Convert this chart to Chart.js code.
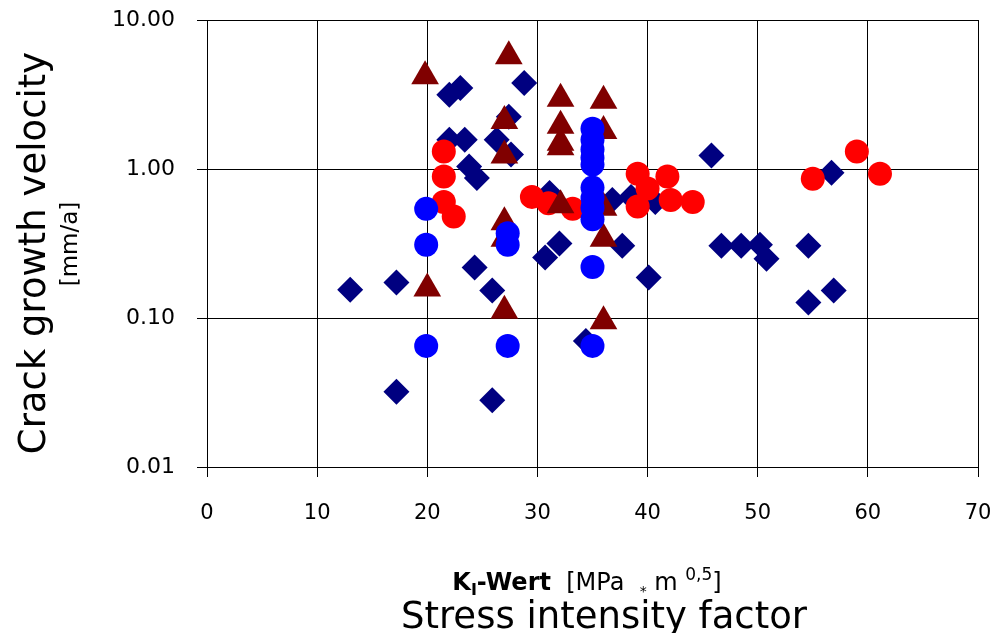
<!DOCTYPE html>
<html>
<head>
<meta charset="utf-8">
<script src="https://cdn.jsdelivr.net/npm/chart.js@4/dist/chart.umd.min.js"></script>
<style>
  body { margin: 0; background: #fff; }
  #wrap { width: 994px; height: 633px; position: relative; }
</style>
</head>
<body>
<div id="wrap"><canvas id="myChart"></canvas></div>
<script>
// Datos (K_I en MPa*m^0,5, velocidad en mm/a)
const diamondX = [13.0, 17.2, 17.2, 22.0, 23.0, 22.0, 23.4, 23.8, 24.5, 28.8, 27.4, 26.3, 27.6, 30.7, 32.0, 24.3, 25.9, 25.9,
    37.7, 40.1, 46.7, 48.5, 50.2, 50.8, 54.6, 56.9, 54.6, 45.8, 56.7, 36.8, 38.5, 40.7, 34.4, 31.1];
const diamondY = [0.155, 0.173, 0.032, 3.15, 3.5, 1.57, 1.57, 1.04, 0.87, 3.78, 2.24, 1.57, 1.25, 0.255, 0.316, 0.218, 0.153, 0.028,
    0.306, 0.187, 0.306, 0.306, 0.31, 0.25, 0.306, 0.153, 0.127, 1.23, 0.945, 0.62, 0.65, 0.6, 0.07, 0.69];

const triangleX = [19.8, 27.4, 27.0, 27.0, 32.1, 32.1, 32.1, 32.1, 32.1, 27.0, 27.0, 20.0, 27.0, 36.0, 36.0, 36.0, 36.0, 36.0];
const triangleY = [4.2, 5.7, 2.1, 1.23, 2.96, 1.95, 1.5, 1.4, 0.57, 0.44, 0.34, 0.158, 0.112, 0.095, 0.34, 0.55, 2.87, 1.8];

const redX = [21.5, 21.5, 21.5, 22.4, 29.5, 31.0, 33.2, 39.1, 40.0, 39.1, 41.8, 42.1, 44.1, 55.0, 59.0, 61.1];
const redY = [1.31, 0.89, 0.60, 0.48, 0.65, 0.59, 0.54, 0.93, 0.74, 0.56, 0.89, 0.62, 0.60, 0.86, 1.31, 0.93];

const blueX = [19.9, 19.9, 19.9, 27.3, 27.3, 27.3, 35.0, 35.0, 35.0, 35.0, 35.0, 35.0, 35.0, 35.0, 35.0, 35.0, 35.0];
const blueY = [0.54, 0.31, 0.065, 0.37, 0.31, 0.065, 1.86, 1.57, 1.35, 1.19, 1.07, 0.75, 0.64, 0.55, 0.46, 0.22, 0.065];

const yTicks = [0.01, 0.1, 1, 10];
const xMin = 0, xMax = 70, xStep = 10;

const FONT = '"DejaVu Sans", Verdana, sans-serif';

function toPoints(xs, ys) {
    return xs.map((x, i) => ({ x: x, y: ys[i] }));
}

// Quitar el relleno extra que Chart.js reserva para las etiquetas
function noScalePadding(scale) {
    scale.paddingLeft = 0;
    scale.paddingRight = 0;
    scale.paddingTop = 0;
    scale.paddingBottom = 0;
}

// Títulos de ejes dibujados a mano (mezcla de fuentes, subíndices)
const axisTitles = {
    id: 'axisTitles',
    afterDraw(chart) {
        const c = chart.ctx;
        c.save();
        c.fillStyle = '#000';

        // eje Y
        c.save();
        c.translate(45, 253);
        c.rotate(-Math.PI / 2);
        c.textAlign = 'center';
        c.textBaseline = 'alphabetic';
        c.font = '37px ' + FONT;
        c.fillText('Crack growth velocity', 0, 0);
        c.restore();

        c.save();
        c.translate(77, 244);
        c.rotate(-Math.PI / 2);
        c.textAlign = 'center';
        c.font = '23px ' + FONT;
        c.fillText('[mm/a]', 0, 0);
        c.restore();

        // eje X, línea 1
        const parts = [
            { t: 'K', f: 'bold 24px ', dy: 0 },
            { t: 'I', f: 'bold 16px ', dy: 5 },
            { t: '-Wert', f: 'bold 24px ', dy: 0 },
            { t: '  [MPa  ', f: '24px ', dy: 0 },
            { t: '*', f: '14px ', dy: 6 },
            { t: ' m ', f: '24px ', dy: 0 },
            { t: '0,5', f: '17px ', dy: -10 },
            { t: ']', f: '24px ', dy: 0 }
        ];
        c.textAlign = 'left';
        let total = 0;
        parts.forEach(p => { c.font = p.f + FONT; p.w = c.measureText(p.t).width; total += p.w; });
        let x = 587 - total / 2;
        parts.forEach(p => {
            c.font = p.f + FONT;
            c.fillText(p.t, x, 590 + p.dy);
            x += p.w;
        });

        // eje X, línea 2
        c.textAlign = 'center';
        c.font = '37px ' + FONT;
        c.fillText('Stress intensity factor', 604, 628);
        c.restore();
    }
};

const ctx = document.getElementById('myChart').getContext('2d');

new Chart(ctx, {
    type: 'scatter',
    data: {
        datasets: [
            {
                label: 'blue',
                data: toPoints(blueX, blueY),
                pointStyle: 'circle',
                pointRadius: 12,
                backgroundColor: '#0000ff',
                borderWidth: 0,
                order: 0
            },
            {
                label: 'triangles',
                data: toPoints(triangleX, triangleY),
                pointStyle: 'triangle',
                pointRadius: 16,
                backgroundColor: '#800000',
                borderWidth: 0,
                order: 1
            },
            {
                label: 'red',
                data: toPoints(redX, redY),
                pointStyle: 'circle',
                pointRadius: 12,
                backgroundColor: '#ff0000',
                borderWidth: 0,
                order: 2
            },
            {
                label: 'diamonds',
                data: toPoints(diamondX, diamondY),
                pointStyle: 'rectRot',
                pointRadius: 13,
                backgroundColor: '#000080',
                borderWidth: 0,
                order: 3
            }
        ]
    },
    options: {
        responsive: true,
        maintainAspectRatio: false,
        animation: false,
        layout: {
            padding: { left: 0, top: 20, right: 14, bottom: 0 }
        },
        plugins: {
            legend: { display: false },
            tooltip: { enabled: false }
        },
        scales: {
            x: {
                type: 'linear',
                min: xMin,
                max: xMax,
                afterFit: function(scale) {
                    scale.height = 166;
                    noScalePadding(scale);
                },
                ticks: {
                    stepSize: xStep,
                    color: '#000',
                    padding: 24,
                    font: { family: FONT, size: 21 }
                },
                grid: {
                    color: '#000',
                    lineWidth: 1,
                    tickLength: 10,
                    drawTicks: true
                },
                border: { display: true, color: '#000', width: 1 }
            },
            y: {
                type: 'logarithmic',
                min: yTicks[0],
                max: yTicks[yTicks.length - 1],
                afterFit: function(scale) {
                    scale.width = 207;
                    noScalePadding(scale);
                },
                afterBuildTicks: function(scale) {
                    scale.ticks = yTicks.map(v => ({ value: v }));
                },
                ticks: {
                    color: '#000',
                    padding: 22,
                    font: { family: FONT, size: 22 },
                    callback: function(value) {
                        return Number(value).toFixed(2);
                    }
                },
                grid: {
                    color: '#000',
                    lineWidth: 1,
                    tickLength: 10,
                    drawTicks: true
                },
                border: { display: true, color: '#000', width: 1 }
            }
        }
    },
    plugins: [axisTitles]
});
</script>
</body>
</html>
